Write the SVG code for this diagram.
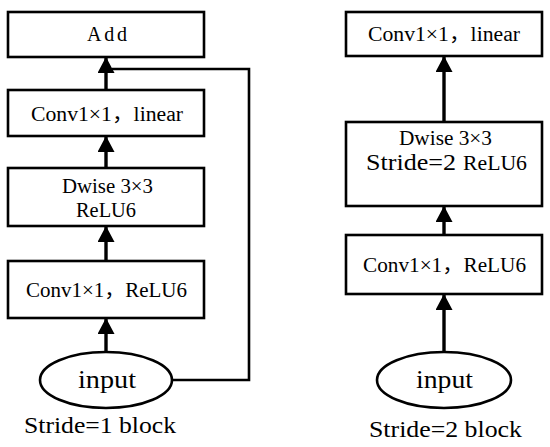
<svg xmlns="http://www.w3.org/2000/svg" width="550" height="447" viewBox="0 0 550 447">
<style>
.box{fill:#fff;stroke:#000;stroke-width:2.6}
.ell{fill:#fff;stroke:#000;stroke-width:2.6}
.t{font-family:"Liberation Serif","Noto Sans CJK SC",serif;fill:#000}
.arr{stroke:#000;stroke-width:3.4;fill:none}
.fb{stroke:#000;stroke-width:2.6;fill:none}
</style>
<defs>
<marker id="ah" viewBox="0 0 16 17" refX="15" refY="8.5" markerWidth="16" markerHeight="17" markerUnits="userSpaceOnUse" orient="auto">
<path d="M0,0 L16,8.5 L0,17 z" fill="#000"/>
</marker>
</defs>
<rect width="550" height="447" fill="#fff"/>
<g id="connectors">
<path class="fb" d="M172,380 H249 V69 H112"/>
<line class="arr" x1="106" y1="90" x2="106" y2="58" marker-end="url(#ah)"/>
<line class="arr" x1="106" y1="168" x2="106" y2="137" marker-end="url(#ah)"/>
<line class="arr" x1="106" y1="261" x2="106" y2="227" marker-end="url(#ah)"/>
<line class="arr" x1="106" y1="352" x2="106" y2="319" marker-end="url(#ah)"/>
<line class="arr" x1="444" y1="122" x2="444" y2="57" marker-end="url(#ah)"/>
<line class="arr" x1="444" y1="235" x2="444" y2="207" marker-end="url(#ah)"/>
<line class="arr" x1="444" y1="352" x2="444" y2="295" marker-end="url(#ah)"/>
</g>
<g id="add">
<rect class="box" x="8" y="12" width="196" height="45"/>
<text class="t" x="87" y="41" font-size="20" textLength="40">Add</text>
</g>
<g id="conv-linear-1">
<rect class="box" x="8" y="90" width="196" height="46"/>
<text class="t" x="31" y="121" font-size="20" textLength="152" lengthAdjust="spacingAndGlyphs">Conv1×1，linear</text>
</g>
<g id="dwise-1">
<rect class="box" x="8" y="168" width="196" height="58"/>
<text class="t" x="62" y="193" font-size="20" textLength="91" lengthAdjust="spacingAndGlyphs">Dwise 3×3</text>
<text class="t" x="76" y="217" font-size="20" textLength="60" lengthAdjust="spacingAndGlyphs">ReLU6</text>
</g>
<g id="conv-relu-1">
<rect class="box" x="8" y="261" width="196" height="57"/>
<text class="t" x="26" y="297" font-size="20" textLength="161" lengthAdjust="spacingAndGlyphs">Conv1×1，ReLU6</text>
</g>
<g id="input-1">
<ellipse class="ell" cx="106" cy="380" rx="66" ry="28"/>
<text class="t" x="78" y="388" font-size="25" textLength="58" lengthAdjust="spacingAndGlyphs">input</text>
</g>
<text class="t" x="24" y="433" font-size="24" textLength="152" lengthAdjust="spacingAndGlyphs">Stride=1 block</text>
<g id="conv-linear-2">
<rect class="box" x="346" y="12" width="196" height="44"/>
<text class="t" x="368" y="41" font-size="20" textLength="152" lengthAdjust="spacingAndGlyphs">Conv1×1，linear</text>
</g>
<g id="dwise-2">
<rect class="box" x="346" y="122" width="196" height="84"/>
<text class="t" x="399" y="145" font-size="20" textLength="93" lengthAdjust="spacingAndGlyphs">Dwise 3×3</text>
<text class="t" x="366" y="170" font-size="24" textLength="90" lengthAdjust="spacingAndGlyphs">Stride=2</text>
<text class="t" x="463" y="170" font-size="20" textLength="64" lengthAdjust="spacingAndGlyphs">ReLU6</text>
</g>
<g id="conv-relu-2">
<rect class="box" x="346" y="235" width="196" height="59"/>
<text class="t" x="363" y="272" font-size="20" textLength="163" lengthAdjust="spacingAndGlyphs">Conv1×1，ReLU6</text>
</g>
<g id="input-2">
<ellipse class="ell" cx="444" cy="380" rx="67" ry="28"/>
<text class="t" x="416" y="388" font-size="25" textLength="57" lengthAdjust="spacingAndGlyphs">input</text>
</g>
<text class="t" x="369" y="437" font-size="24" textLength="153" lengthAdjust="spacingAndGlyphs">Stride=2 block</text>
</svg>
